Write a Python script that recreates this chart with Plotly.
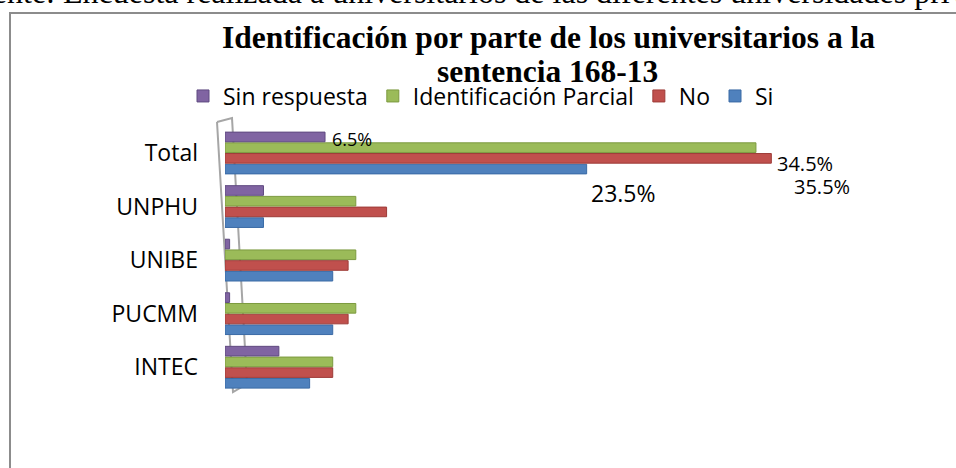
import plotly.graph_objects as go

categories = ["INTEC", "PUCMM", "UNIBE", "UNPHU", "Total"]
si = [5.5, 7.0, 7.0, 2.5, 23.5]
no = [7.0, 8.0, 8.0, 10.5, 35.5]
parcial = [7.0, 8.5, 8.5, 8.5, 34.5]
sin_resp = [3.5, 0.3, 0.3, 2.5, 6.5]

total_labels = {"Sin respuesta": "6.5%", "Identificación Parcial": "34.5%",
                "No": "35.5%", "Si": "23.5%"}

W, H = 956, 468
ML, MR, MT, MB = 225, 0, 125, 74
PW = W - ML - MR
PH = H - MT - MB

def px(x):
    return (x - ML) / PW

def py(y):
    return (H - MB - y) / PH

fig = go.Figure()
series = [
    ("Si", si, "#4F81BD", "#3A6AA5"),
    ("No", no, "#C0504D", "#9D3B38"),
    ("Identificación Parcial", parcial, "#9BBB59", "#7C9A3F"),
    ("Sin respuesta", sin_resp, "#8064A2", "#5F4A80"),
]
for name, vals, col, edge in series:
    fig.add_trace(go.Bar(
        y=categories, x=vals, name=name, orientation="h",
        marker=dict(color=col, line=dict(color=edge, width=1)),
    ))

# data labels on the Total group (style offsets only: yshift, xshift, font size)
label_style = {
    "Sin respuesta": (14, 5, 18),
    "Identificación Parcial": (-10, 19, 20),
    "No": (-33, 21, 20),
    "Si": (-40, 2, 23),
}
annotations = []
for name, vals, col, edge in series:
    ys, xs, fs = label_style[name]
    annotations.append(dict(
        text=total_labels[name], x=vals[-1], y="Total", xref="x", yref="y",
        xanchor="left", yanchor="middle", xshift=xs, yshift=ys,
        showarrow=False, font=dict(family="Open Sans", size=fs, color="#000")))

annotations += [
    dict(text="<b>Identificación por parte de los universitarios a la</b>",
         xref="paper", yref="paper", x=px(548), y=py(37),
         xanchor="center", yanchor="middle", showarrow=False,
         font=dict(family="Liberation Serif", size=31.5, color="#000")),
    dict(text="<b>sentencia 168-13</b>",
         xref="paper", yref="paper", x=px(547), y=py(72),
         xanchor="center", yanchor="middle", showarrow=False,
         font=dict(family="Liberation Serif", size=31.5, color="#000")),
    dict(text="Fuente: Encuesta realizada a universitarios de las diferentes universidades privadas",
         xref="paper", yref="paper", x=px(-43), y=py(12),
         xanchor="left", yanchor="bottom", showarrow=False,
         font=dict(family="Liberation Serif", size=32, color="#000")),
]

def pt(x, y):
    return f"{px(x):.5f},{py(y):.5f}"

wall_back = f"M {pt(217,122)} L {pt(232,118)} L {pt(247,384)}"
wall_front = f"M {pt(217,122)} L {pt(233,392)} L {pt(247,384)}"

fig.update_layout(
    width=W, height=H,
    margin=dict(l=ML, r=MR, t=MT, b=MB, autoexpand=False),
    paper_bgcolor="white", plot_bgcolor="rgba(0,0,0,0)",
    barmode="group", bargap=0.2, bargroupgap=0.1,
    showlegend=True,
    legend=dict(orientation="h", traceorder="reversed",
                xref="container", yref="container",
                x=183 / W, y=1 - 96 / H, xanchor="left", yanchor="middle",
                font=dict(family="Open Sans", size=23, color="#000"),
                itemwidth=30, bgcolor="rgba(0,0,0,0)"),
    xaxis=dict(range=[0, 47.5], showgrid=False, zeroline=False, automargin=False,
               showticklabels=False, ticks="", showline=False),
    yaxis=dict(showgrid=False, zeroline=False, ticks="", showline=False,
               automargin=False,
               tickfont=dict(family="Open Sans", size=23, color="#000"),
               ticklabelstandoff=26),
    annotations=annotations,
    shapes=[
        dict(type="rect", xref="paper", yref="paper",
             x0=px(10), x1=px(962), y0=py(13), y1=py(475),
             line=dict(color="#8C8C8C", width=2), fillcolor="rgba(0,0,0,0)", layer="below"),
        dict(type="path", xref="paper", yref="paper", path=wall_back,
             line=dict(color="#A6A6A6", width=2), layer="below"),
        dict(type="path", xref="paper", yref="paper", path=wall_front,
             line=dict(color="#A6A6A6", width=2), layer="below"),
    ],
)

fig.write_html("out.html",
               config={"displayModeBar": False},
               post_script="document.body.style.margin='0';document.body.style.overflow='hidden';")
